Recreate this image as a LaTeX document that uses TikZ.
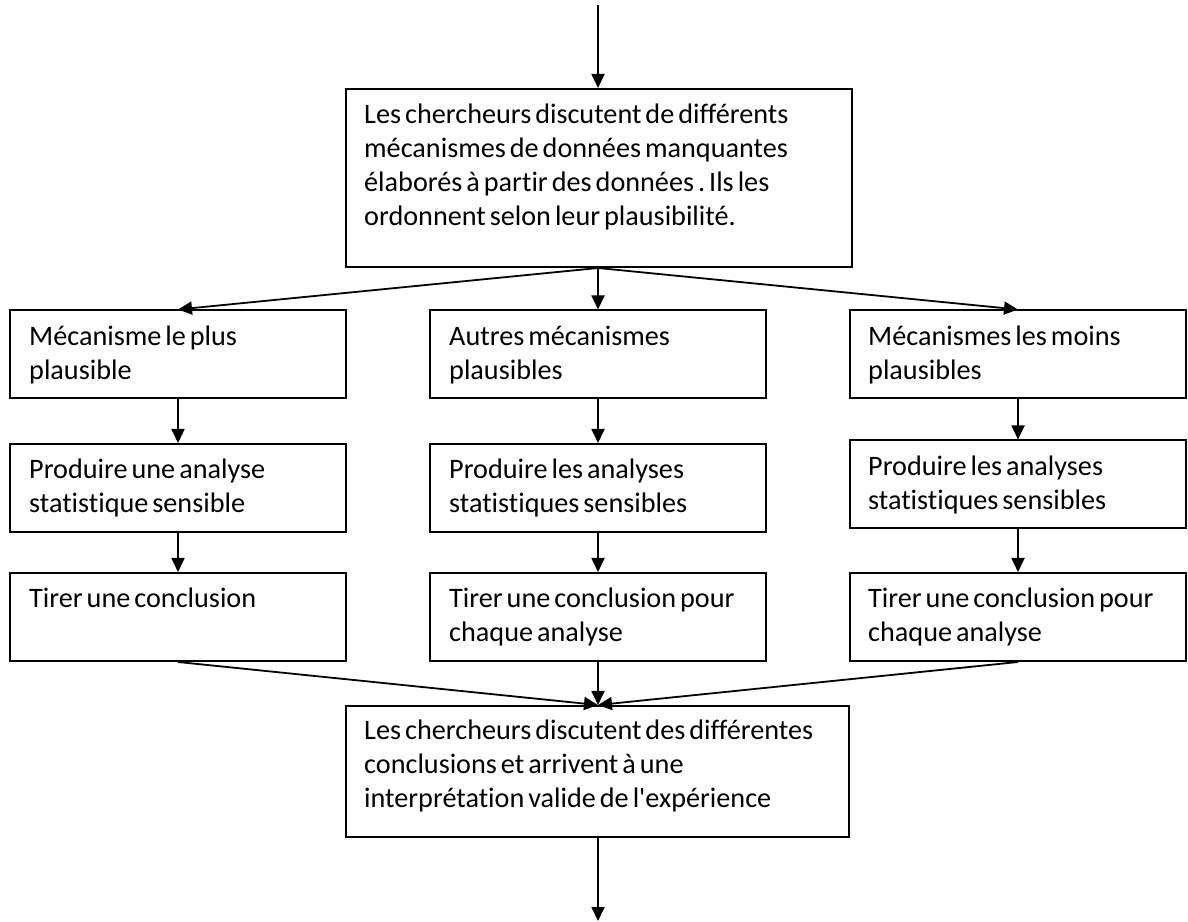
\documentclass[tikz,border=0pt]{standalone}
\usepackage{fontspec}
\setmainfont{Carlito}[Ligatures={TeXOff,NoCommon}]
\usetikzlibrary{arrows.meta}
\newcommand\boxfont{\fontsize{28.2}{34}\selectfont}
\newcommand\tightspaces{\spaceskip=4pt plus 0.5pt\relax\xspaceskip=4pt\relax}
\begin{document}
\begin{tikzpicture}[x=1pt,y=1pt,
  box/.style={draw, line width=2pt, minimum width=336pt, minimum height=88pt, inner sep=0pt},
  txt/.style={anchor=base west, inner sep=0pt, align=left, text width=#1, font=\boxfont,
    execute at begin node=\tightspaces},
  txt/.default=320pt,
  arr/.style={-{Triangle[length=14pt,width=13pt]}, line width=1.8pt}]
\useasboundingbox (0,0) rectangle (1188,921);
% top
\coordinate (start) at (598,916);
\node[box, minimum width=506pt, minimum height=178pt] (top) at (599,{921-178}) {};
\node[txt=480pt] (ttop) at ([xshift=19pt,yshift=-36pt]top.north west)
  {Les chercheurs discutent de différents\\mécanismes de données manquantes\\élaborés à partir des données . Ils les\\ordonnent selon leur plausibilité.};
% row 1
\node[box] (a1) at (178,{921-354.5}) {};
\node[box] (b1) at (598,{921-354.5}) {};
\node[box] (c1) at (1018,{921-354.5}) {};
\node[txt] (ta1) at ([xshift=20pt,yshift=-36pt]a1.north west) {Mécanisme le plus\\plausible};
\node[txt] (tb1) at ([xshift=20pt,yshift=-36pt]b1.north west) {Autres mécanismes\\plausibles};
\node[txt] (tc1) at ([xshift=19pt,yshift=-36pt]c1.north west) {Mécanismes les moins\\plausibles};
% row 2
\node[box] (a2) at (178,{921-488}) {};
\node[box] (b2) at (598,{921-488}) {};
\node[box] (c2) at (1018,{921-484.5}) {};
\node[txt] (ta2) at ([xshift=20pt,yshift=-36pt]a2.north west) {Produire une analyse\\statistique sensible};
\node[txt] (tb2) at ([xshift=20pt,yshift=-36pt]b2.north west) {Produire les analyses\\statistiques sensibles};
\node[txt] (tc2) at ([xshift=19pt,yshift=-36pt]c2.north west) {Produire les analyses\\statistiques sensibles};
% row 3
\node[box] (a3) at (178,{921-617}) {};
\node[box] (b3) at (598,{921-617}) {};
\node[box] (c3) at (1018,{921-617}) {};
\node[txt] (ta3) at ([xshift=20pt,yshift=-36pt]a3.north west) {Tirer une conclusion};
\node[txt] (tb3) at ([xshift=20pt,yshift=-36pt]b3.north west) {Tirer une conclusion pour\\chaque analyse};
\node[txt] (tc3) at ([xshift=19pt,yshift=-36pt]c3.north west) {Tirer une conclusion pour\\chaque analyse};
% bottom
\node[box, minimum width=503pt, minimum height=131pt] (bot) at (597.5,{921-771.5}) {};
\node[txt=480pt] (tbot) at ([xshift=19pt,yshift=-35pt]bot.north west)
  {Les chercheurs discutent des différentes\\conclusions et arrivent à une\\interprétation valide de l'expérience};
\coordinate (end) at (598,0);
% connectors
\draw[arr] (start) -- (top.north -| start);
\draw[arr] (top.south -| start) -- (a1.north);
\draw[arr] (top.south -| start) -- (b1.north);
\draw[arr] (top.south -| start) -- (c1.north);
\draw[arr] (a1) -- (a2);
\draw[arr] (b1) -- (b2);
\draw[arr] (c1) -- (c2);
\draw[arr] (a2) -- (a3);
\draw[arr] (b2) -- (b3);
\draw[arr] (c2) -- (c3);
\draw[arr] (a3.south) -- (bot.north -| start);
\draw[arr] (b3.south) -- (bot.north -| start);
\draw[arr] (c3.south) -- (bot.north -| start);
\draw[arr] (bot.south -| start) -- (end);
\end{tikzpicture}
\end{document}
